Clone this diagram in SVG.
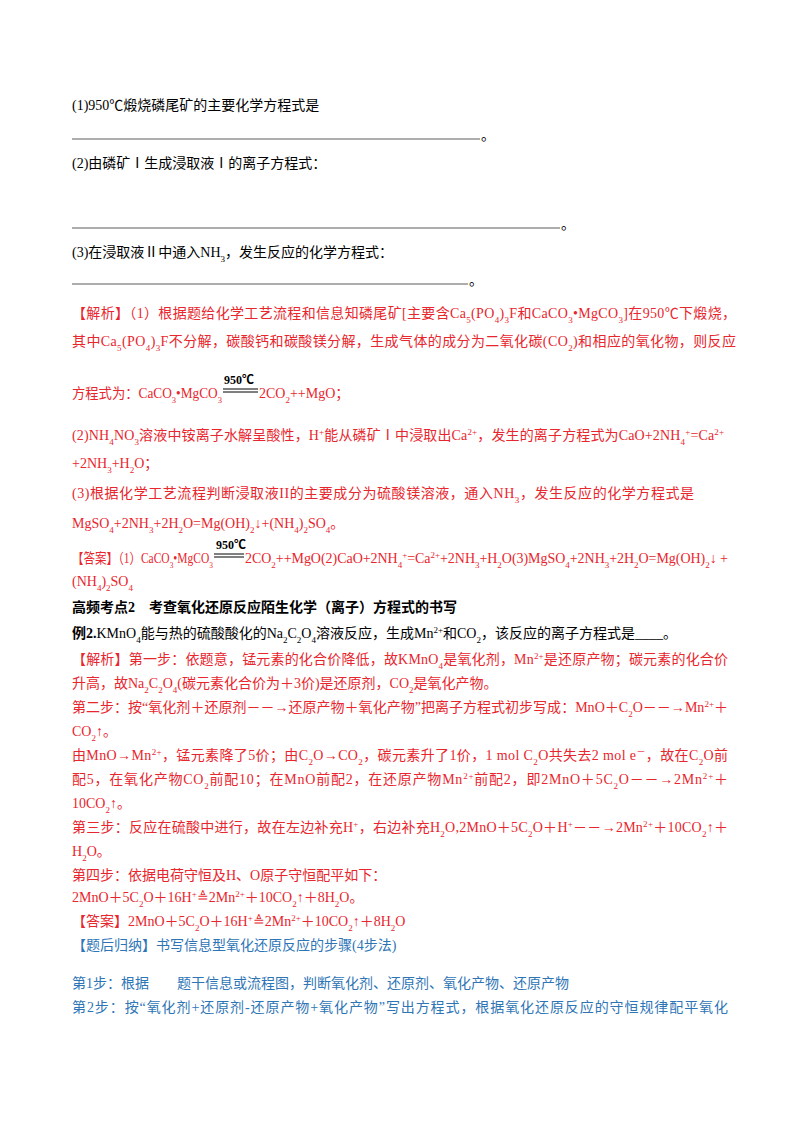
<svg xmlns="http://www.w3.org/2000/svg" width="800" height="1132" viewBox="0 0 800 1132">
<style>
text{font-family:"Liberation Serif","Noto Sans CJK SC",serif;font-size:14px;fill:#000}
.r{fill:#e8262e}
.b{fill:#2e75b6}
.k{font-weight:bold}
.s{font-size:9px;baseline-shift:sub}
.u{font-size:9px;baseline-shift:super}
.ul{stroke:#333;stroke-width:0.8}
</style>
<rect width="800" height="1132" fill="#fff"/>
<g id="questions">
<text x="72" y="110">(1)950℃煅烧磷尾矿的主要化学方程式是</text>
<line class="ul" x1="72" y1="139" x2="480" y2="139"/><text x="481" y="140">。</text>
<text x="72" y="168">(2)由磷矿Ⅰ生成浸取液Ⅰ的离子方程式：</text>
<line class="ul" x1="72" y1="228" x2="560" y2="228"/><text x="561" y="229">。</text>
<text x="72" y="257">(3)在浸取液Ⅱ中通入NH<tspan class="s">3</tspan>，发生反应的化学方程式：</text>
<line class="ul" x1="72" y1="284" x2="468" y2="284"/><text x="469" y="285">。</text>
</g>
<g id="analysis1" class="r">
<text class="r" x="72" y="318" textLength="664" lengthAdjust="spacing">【解析】（1）根据题给化学工艺流程和信息知磷尾矿[主要含Ca<tspan class="s">5</tspan>(PO<tspan class="s">4</tspan>)<tspan class="s">3</tspan>F和CaCO<tspan class="s">3</tspan>•MgCO<tspan class="s">3</tspan>]在950℃下煅烧，</text>
<text class="r" x="72" y="346" textLength="664" lengthAdjust="spacing">其中Ca<tspan class="s">5</tspan>(PO<tspan class="s">4</tspan>)<tspan class="s">3</tspan>F不分解，碳酸钙和碳酸镁分解，生成气体的成分为二氧化碳(CO<tspan class="s">2</tspan>)和相应的氧化物，则反应</text>
<text class="r" x="72" y="398" textLength="150" lengthAdjust="spacingAndGlyphs">方程式为：CaCO<tspan class="s">3</tspan>•MgCO<tspan class="s">3</tspan></text>
<text x="224" y="384" font-weight="bold" style="font-size:12px">950℃</text>
<line x1="223" y1="389" x2="258" y2="389" stroke="#000"/><line x1="223" y1="392" x2="258" y2="392" stroke="#000"/>
<text class="r" x="259" y="398">2CO<tspan class="s">2</tspan>++MgO；</text>
<text class="r" x="72" y="440" textLength="652" lengthAdjust="spacing">(2)NH<tspan class="s">4</tspan>NO<tspan class="s">3</tspan>溶液中铵离子水解呈酸性，H<tspan class="u">+</tspan>能从磷矿Ⅰ中浸取出Ca<tspan class="u">2+</tspan>，发生的离子方程式为CaO+2NH<tspan class="s">4</tspan><tspan class="u">+</tspan>=Ca<tspan class="u">2+</tspan></text>
<text class="r" x="72" y="468">+2NH<tspan class="s">3</tspan>+H<tspan class="s">2</tspan>O；</text>
<text class="r" x="72" y="498" textLength="622" lengthAdjust="spacing">(3)根据化学工艺流程判断浸取液II的主要成分为硫酸镁溶液，通入NH<tspan class="s">3</tspan>，发生反应的化学方程式是</text>
<text class="r" x="72" y="528">MgSO<tspan class="s">4</tspan>+2NH<tspan class="s">3</tspan>+2H<tspan class="s">2</tspan>O=Mg(OH)<tspan class="s">2</tspan>↓+(NH<tspan class="s">4</tspan>)<tspan class="s">2</tspan>SO<tspan class="s">4</tspan>。</text>
<text class="r" x="72" y="563" textLength="141" lengthAdjust="spacingAndGlyphs">【答案】（1）CaCO<tspan class="s">3</tspan>•MgCO<tspan class="s">3</tspan></text>
<text x="216" y="549" font-weight="bold" style="font-size:12px">950℃</text>
<line x1="214" y1="554" x2="244" y2="554" stroke="#000"/><line x1="214" y1="557" x2="244" y2="557" stroke="#000"/>
<text class="r" x="245" y="563" textLength="483" lengthAdjust="spacing">2CO<tspan class="s">2</tspan>++MgO(2)CaO+2NH<tspan class="s">4</tspan><tspan class="u">+</tspan>=Ca<tspan class="u">2+</tspan>+2NH<tspan class="s">3</tspan>+H<tspan class="s">2</tspan>O(3)MgSO<tspan class="s">4</tspan>+2NH<tspan class="s">3</tspan>+2H<tspan class="s">2</tspan>O=Mg(OH)<tspan class="s">2</tspan>↓ +</text>
<text class="r" x="72" y="586">(NH<tspan class="s">4</tspan>)<tspan class="s">2</tspan>SO<tspan class="s">4</tspan></text>
</g>
<g id="example2">
<text class="k" x="72" y="612">高频考点2　考查氧化还原反应陌生化学（离子）方程式的书写</text>
<text x="72" y="638"><tspan class="k">例2.</tspan>KMnO<tspan class="s">4</tspan>能与热的硫酸酸化的Na<tspan class="s">2</tspan>C<tspan class="s">2</tspan>O<tspan class="s">4</tspan>溶液反应，生成Mn<tspan class="u">2+</tspan>和CO<tspan class="s">2</tspan>，该反应的离子方程式是____。</text>
<text class="r" x="72" y="664" textLength="656" lengthAdjust="spacing">【解析】第一步：依题意，锰元素的化合价降低，故KMnO<tspan class="s">4</tspan>是氧化剂，Mn<tspan class="u">2+</tspan>是还原产物；碳元素的化合价</text>
<text class="r" x="72" y="688">升高，故Na<tspan class="s">2</tspan>C<tspan class="s">2</tspan>O<tspan class="s">4</tspan>(碳元素化合价为＋3价)是还原剂，CO<tspan class="s">2</tspan>是氧化产物。</text>
<text class="r" x="72" y="712" textLength="656" lengthAdjust="spacing">第二步：按“氧化剂＋还原剂－－→还原产物＋氧化产物”把离子方程式初步写成：MnO＋C<tspan class="s">2</tspan>O－－→Mn<tspan class="u">2+</tspan>＋</text>
<text class="r" x="72" y="736">CO<tspan class="s">2</tspan>↑。</text>
<text class="r" x="72" y="760" textLength="656" lengthAdjust="spacing">由MnO→Mn<tspan class="u">2+</tspan>，锰元素降了5价；由C<tspan class="s">2</tspan>O→CO<tspan class="s">2</tspan>，碳元素升了1价，1 mol C<tspan class="s">2</tspan>O共失去2 mol e<tspan class="u">－</tspan>，故在C<tspan class="s">2</tspan>O前</text>
<text class="r" x="72" y="784" textLength="656" lengthAdjust="spacing">配5，在氧化产物CO<tspan class="s">2</tspan>前配10；在MnO前配2，在还原产物Mn<tspan class="u">2+</tspan>前配2，即2MnO＋5C<tspan class="s">2</tspan>O－－→2Mn<tspan class="u">2+</tspan>＋</text>
<text class="r" x="72" y="808">10CO<tspan class="s">2</tspan>↑。</text>
<text class="r" x="72" y="832" textLength="656" lengthAdjust="spacing">第三步：反应在硫酸中进行，故在左边补充H<tspan class="u">+</tspan>，右边补充H<tspan class="s">2</tspan>O,2MnO＋5C<tspan class="s">2</tspan>O＋H<tspan class="u">+</tspan>－－→2Mn<tspan class="u">2+</tspan>＋10CO<tspan class="s">2</tspan>↑＋</text>
<text class="r" x="72" y="856">H<tspan class="s">2</tspan>O。</text>
<text class="r" x="72" y="880">第四步：依据电荷守恒及H、O原子守恒配平如下：</text>
<text class="r" x="72" y="902">2MnO＋5C<tspan class="s">2</tspan>O＋16H<tspan class="u">+</tspan>≜2Mn<tspan class="u">2+</tspan>＋10CO<tspan class="s">2</tspan>↑＋8H<tspan class="s">2</tspan>O。</text>
<text class="r" x="72" y="926">【答案】2MnO＋5C<tspan class="s">2</tspan>O＋16H<tspan class="u">+</tspan>≜2Mn<tspan class="u">2+</tspan>＋10CO<tspan class="s">2</tspan>↑＋8H<tspan class="s">2</tspan>O</text>
<text class="b" x="72" y="950">【题后归纳】书写信息型氧化还原反应的步骤(4步法)</text>
<text class="b" x="72" y="988">第1步：根据　　题干信息或流程图，判断氧化剂、还原剂、氧化产物、还原产物</text>
<text class="b" x="72" y="1012" textLength="656" lengthAdjust="spacing">第2步：按“氧化剂+还原剂-还原产物+氧化产物”写出方程式，根据氧化还原反应的守恒规律配平氧化</text>
</g>
</svg>
